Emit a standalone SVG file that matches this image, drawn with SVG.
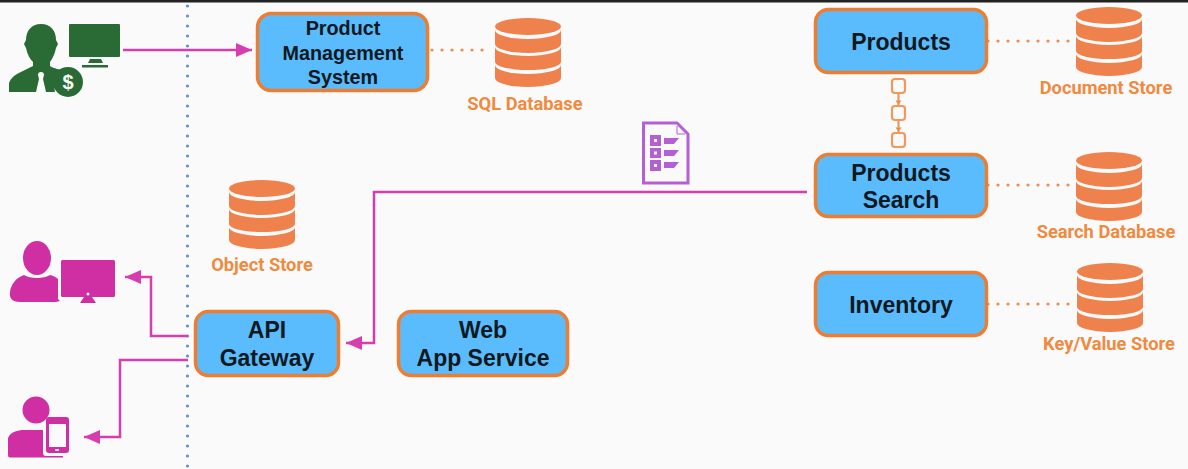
<svg xmlns="http://www.w3.org/2000/svg" width="1188" height="469" viewBox="0 0 1188 469">
<style>
.n{fill:#5abcfd;stroke:#ed7d31;stroke-width:3.5}
.t{font-family:"Liberation Sans",Arial,sans-serif;font-weight:700;fill:#101820;text-anchor:middle}
.l{font-family:"Roboto","Liberation Sans",sans-serif;font-weight:700;font-size:18.300px;fill:#ef8a3f;text-anchor:middle}
.c{fill:none;stroke:#d63eb0;stroke-width:2.500}
.d{fill:none;stroke:#ef8a4c;stroke-width:3.200;stroke-linecap:round;stroke-dasharray:0 10}
.g{fill:#2a6b35}.m{fill:#cf2fa2}
</style>
<defs>
<symbol id="db" viewBox="0 0 66 69" overflow="visible">
<g fill="#ef824c">
<ellipse cx="33" cy="8.500" rx="33" ry="8.500"/>
<path d="M0 12A33 9 0 0 0 66 12V26A33 9 0 0 1 0 26Z"/>
<path d="M0 29A33 9 0 0 0 66 29V44A33 8 0 0 1 0 44Z"/>
<path d="M0 47A33 9 0 0 0 66 47V60A33 9 0 0 1 0 60Z"/>
</g>
</symbol>
<marker id="a" markerUnits="userSpaceOnUse" markerWidth="17" markerHeight="14" refX="16" refY="7" orient="auto"><path d="M0 0L16 7L0 14Z" fill="#d63eb0"/></marker>
</defs>
<rect width="1188" height="469" fill="#fafafa"/>
<rect width="1188" height="2.500" fill="#222"/>
<path d="M187.500 6V469" fill="none" stroke="#5b93d3" stroke-width="3.200" stroke-linecap="round" stroke-dasharray="0 10"/>
<g id="connectors">
<path class="c" d="M123 50H252" marker-end="url(#a)"/>
<path class="c" d="M807 192H374V343H346" marker-end="url(#a)"/>
<path class="c" d="M188 336H151V277H125" marker-end="url(#a)"/>
<path class="c" d="M188 360H120V437H84" marker-end="url(#a)"/>
<path class="d" d="M432 50H490"/>
<path class="d" d="M988 41H1070"/>
<path class="d" d="M988 185H1070"/>
<path class="d" d="M988 304H1070"/>
</g>
<g id="flow-chain" fill="none" stroke="#ef9a5c" stroke-width="2.200">
<rect x="892" y="79" width="13" height="14" rx="3"/>
<rect x="892" y="106" width="13" height="14" rx="3"/>
<rect x="892" y="133" width="13" height="14" rx="3"/>
<path d="M898.500 93V106M898.500 120V133"/>
<path d="M895.500 100.500h6l-3 4zM895.500 127.500h6l-3 4z" fill="#ef8a4c" stroke="none"/>
</g>
<g id="spec-doc">
<path d="M643.500 123H677L688 134V183H643.500Z" fill="#fafafa" stroke="#b45fd3" stroke-width="3"/>
<path d="M677 126V134H685" fill="none" stroke="#b45fd3" stroke-width="1"/>
<path d="M650 135h11v11h-11zM650 148h11v10h-11zM650 160h11v11h-11zM664 138h15l-5 6h-10zM664 150h15l-5 6h-10zM664 162h15l-5 6h-10z" fill="#b45fd3"/>
<path d="M654 139h3v3h-3zM654 151.500h3v3h-3zM654 164h3v3h-3z" fill="#fafafa"/>
</g>
<g id="admin-user">
<path class="g" d="M41 24C51 24 56 31 56 40L58 44L56 48C55 54 52 59 50 62V66C54 69 60 69 64 71C56 76 53 84 55 92H46L43 79L44 75A3 3 0 1 0 38 75L39 79L36 92H9V83C12 74 22 72 33 66V62C30 59 27 54 26 48L24 44L26 40C26 31 31 24 41 24Z"/>
<rect class="g" x="69" y="24" width="51" height="33" rx="1"/>
<path class="g" d="M90 59h11l2 4h-15zM82 65h26v2.500h-26z"/>
<circle class="g" cx="68" cy="82" r="15"/>
<text x="68" y="89" font-family="Liberation Sans,sans-serif" font-weight="700" font-size="20" fill="#fafafa" text-anchor="middle">$</text>
</g>
<g id="desktop-user">
<ellipse class="m" cx="37" cy="258" rx="14" ry="17"/>
<path class="m" d="M24 275C30 279 44 279 50 275C54 276 56 277 58 279V299L60 301L56 302H20C12 302 9 298 10 292C11 284 16 278 24 275Z"/>
<rect class="m" x="61" y="260" width="54" height="37" rx="1.500"/>
<path class="m" d="M84 297h8l4 6h-16z"/>
<circle cx="88" cy="294" r="1.500" fill="#fafafa"/>
</g>
<g id="mobile-user">
<circle class="m" cx="36" cy="410" r="13.500"/>
<path class="m" d="M8 438C10 432 18 430 24 430H43V452C43 455 44 456 46 456H63V457.500H10Q8 457.500 8 455Z"/>
<rect x="46" y="417" width="23" height="36" rx="3" class="m"/>
<rect x="49" y="424" width="17" height="23" fill="#fafafa"/>
<rect x="55" y="449" width="4" height="2" rx="1" fill="#fafafa"/>
</g>
<g id="product-management-system">
<rect class="n" x="257.500" y="13.500" width="170" height="77" rx="14"/>
<text class="t" font-size="19.800" x="343" y="35">Product</text>
<text class="t" font-size="19.800" x="343" y="60">Management</text>
<text class="t" font-size="19.800" x="343" y="84">System</text>
</g>
<g id="products">
<rect class="n" x="815.500" y="9.500" width="171" height="63" rx="13"/>
<text class="t" font-size="23" x="901" y="50">Products</text>
</g>
<g id="products-search">
<rect class="n" x="815.500" y="154.500" width="171" height="62" rx="13"/>
<text class="t" font-size="23" x="901" y="181">Products</text>
<text class="t" font-size="23" x="901" y="208">Search</text>
</g>
<g id="inventory">
<rect class="n" x="815.500" y="272.500" width="171" height="63" rx="13"/>
<text class="t" font-size="23" x="901" y="313">Inventory</text>
</g>
<g id="api-gateway">
<rect class="n" x="195.500" y="311.500" width="143" height="64" rx="13"/>
<text class="t" font-size="23" x="267" y="338">API</text>
<text class="t" font-size="23" x="267" y="366">Gateway</text>
</g>
<g id="web-app-service">
<rect class="n" x="398.500" y="311.500" width="169" height="64" rx="13"/>
<text class="t" font-size="23" x="483" y="338">Web</text>
<text class="t" font-size="23" x="483" y="366">App Service</text>
</g>
<g id="sql-database"><use href="#db" x="495" y="18" width="66" height="69"/><text class="l" x="525" y="110">SQL Database</text></g>
<g id="document-store"><use href="#db" x="1076" y="7" width="66" height="69"/><text class="l" x="1106" y="94">Document Store</text></g>
<g id="search-database"><use href="#db" x="1076" y="152" width="66" height="69"/><text class="l" x="1106" y="238">Search Database</text></g>
<g id="key-value-store"><use href="#db" x="1077" y="263" width="66" height="69"/><text class="l" x="1109" y="350">Key/Value Store</text></g>
<g id="object-store"><use href="#db" x="229" y="180" width="66" height="69"/><text class="l" x="262" y="271">Object Store</text></g>
</svg>
